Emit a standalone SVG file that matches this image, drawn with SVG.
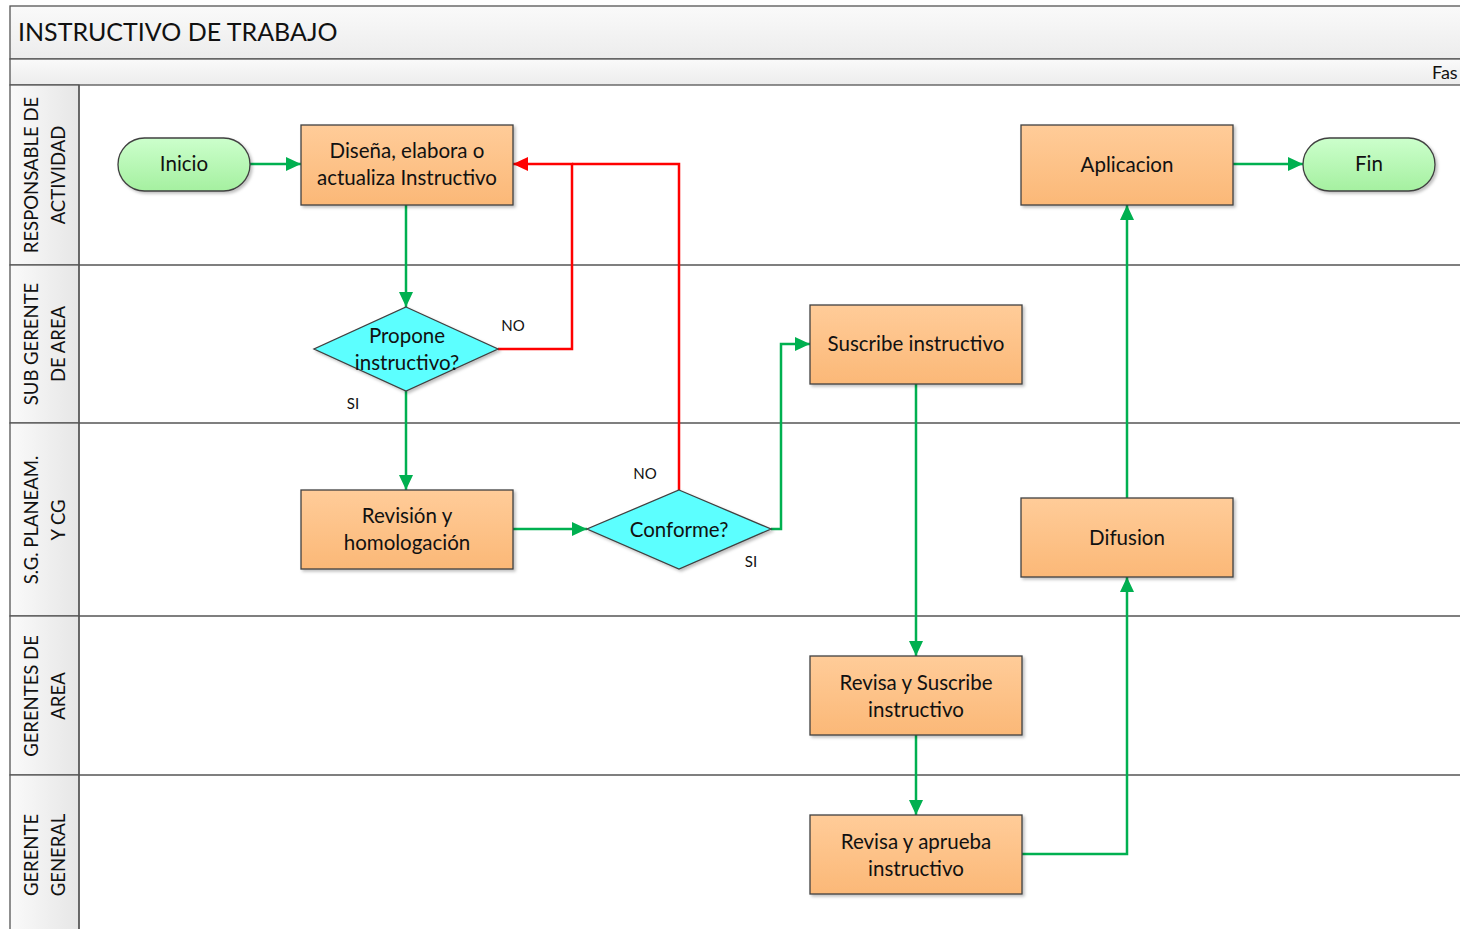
<svg xmlns="http://www.w3.org/2000/svg" width="1460" height="929" viewBox="0 0 1460 929">
<style>
.t{font-family:Lato,"Liberation Sans",sans-serif;fill:#111;}
.nt{font-size:20.5px;text-anchor:middle;}
.lbl{font-size:15px;text-anchor:middle;font-family:Lato,"Liberation Sans",sans-serif;fill:#111;}
.ln{font-size:18.5px;text-anchor:middle;}
.box{fill:url(#og);stroke:#404040;stroke-width:1.3;filter:url(#sh);}
.dia{fill:#5cffff;stroke:#404040;stroke-width:1.3;filter:url(#sh);}
.term{fill:url(#gg);stroke:#404040;stroke-width:1.3;filter:url(#sh);}
.g{fill:none;stroke:#00b050;stroke-width:2.5;}
.r{fill:none;stroke:#ff0000;stroke-width:2.5;}
.frame{stroke:#555;stroke-width:1.3;}
</style>
<defs>
<linearGradient id="og" x1="0" y1="0" x2="0" y2="1"><stop offset="0" stop-color="#ffcc99"/><stop offset="1" stop-color="#fbb877"/></linearGradient>
<linearGradient id="gg" x1="0" y1="0" x2="0" y2="1"><stop offset="0" stop-color="#ccffcc"/><stop offset="1" stop-color="#a5f0a0"/></linearGradient>
<linearGradient id="hg" x1="0" y1="0" x2="0" y2="1"><stop offset="0" stop-color="#fafafa"/><stop offset="1" stop-color="#ececec"/></linearGradient>
<linearGradient id="lg" x1="0" y1="0" x2="1" y2="0"><stop offset="0" stop-color="#fafafa"/><stop offset="1" stop-color="#e6e6e6"/></linearGradient>
<filter id="sh" x="-10%" y="-10%" width="130%" height="130%"><feDropShadow dx="2" dy="2" stdDeviation="1.5" flood-color="#000" flood-opacity="0.25"/></filter>
<marker id="ag" markerUnits="userSpaceOnUse" markerWidth="16" markerHeight="14" refX="15" refY="7" orient="auto"><path d="M0,0 L15,7 L0,14 Z" fill="#00b050"/></marker>
<marker id="ar" markerUnits="userSpaceOnUse" markerWidth="16" markerHeight="14" refX="15" refY="7" orient="auto"><path d="M0,0 L15,7 L0,14 Z" fill="#ff0000"/></marker>
</defs>
<rect width="1460" height="929" fill="#fff"/>
<g id="pool">
<rect x="10" y="6" width="1460" height="53" fill="url(#hg)" class="frame"/>
<rect x="10" y="59" width="1460" height="26" fill="url(#hg)" class="frame"/>
<text x="18" y="41" class="t" style="font-size:25px">INSTRUCTIVO DE TRABAJO</text>
<text x="1432" y="79" class="t" style="font-size:18px">Fas</text>
</g>
<g id="lanes">
<rect x="10" y="85" width="69" height="180" fill="url(#lg)" class="frame"/>
<rect x="10" y="265" width="69" height="158" fill="url(#lg)" class="frame"/>
<rect x="10" y="423" width="69" height="193" fill="url(#lg)" class="frame"/>
<rect x="10" y="616" width="69" height="159" fill="url(#lg)" class="frame"/>
<rect x="10" y="775" width="69" height="160" fill="url(#lg)" class="frame"/>
<g fill="none" class="frame" stroke="#555">
<line x1="79" y1="85" x2="79" y2="929"/>
<line x1="79" y1="265" x2="1460" y2="265"/>
<line x1="79" y1="423" x2="1460" y2="423"/>
<line x1="79" y1="616" x2="1460" y2="616"/>
<line x1="79" y1="775" x2="1460" y2="775"/>
</g>
<g class="t ln">
<text transform="translate(38,175) rotate(-90)">RESPONSABLE DE</text>
<text transform="translate(65,175) rotate(-90)">ACTIVIDAD</text>
<text transform="translate(38,344) rotate(-90)">SUB GERENTE</text>
<text transform="translate(65,344) rotate(-90)">DE AREA</text>
<text transform="translate(38,520) rotate(-90)">S.G. PLANEAM.</text>
<text transform="translate(65,520) rotate(-90)">Y CG</text>
<text transform="translate(38,696) rotate(-90)">GERENTES DE</text>
<text transform="translate(65,696) rotate(-90)">AREA</text>
<text transform="translate(38,855) rotate(-90)">GERENTE</text>
<text transform="translate(65,855) rotate(-90)">GENERAL</text>
</g>
</g>
<g id="connectors">
<path class="g" d="M250,164 H301" marker-end="url(#ag)"/>
<path class="g" d="M406,205 V307" marker-end="url(#ag)"/>
<path class="r" d="M498,349 H572 V164 H513" marker-end="url(#ar)"/>
<path class="r" d="M679,490 V164 H572"/>
<path class="g" d="M406,391 V490" marker-end="url(#ag)"/>
<path class="g" d="M513,529 H587" marker-end="url(#ag)"/>
<path class="g" d="M771,529 H781 V344 H810" marker-end="url(#ag)"/>
<path class="g" d="M916,384 V656" marker-end="url(#ag)"/>
<path class="g" d="M916,735 V815" marker-end="url(#ag)"/>
<path class="g" d="M1022,854 H1127 V577" marker-end="url(#ag)"/>
<path class="g" d="M1127,498 V205" marker-end="url(#ag)"/>
<path class="g" d="M1233,164 H1303" marker-end="url(#ag)"/>
<text x="513" y="331" class="lbl">NO</text>
<text x="353" y="409" class="lbl">SI</text>
<text x="645" y="479" class="lbl">NO</text>
<text x="751" y="567" class="lbl">SI</text>
</g>
<g id="inicio"><rect x="118" y="138" width="132" height="53" rx="26.5" class="term"/><text x="184" y="171" class="t nt">Inicio</text></g>
<g id="disena"><rect x="301" y="125" width="212" height="80" class="box"/><text x="407" y="158" class="t nt">Diseña, elabora o</text><text x="407" y="185" class="t nt">actualiza Instructivo</text></g>
<g id="propone"><polygon points="406,307 498,349 406,391 314,349" class="dia"/><text x="407" y="343" class="t nt">Propone</text><text x="407" y="370" class="t nt">instructivo?</text></g>
<g id="revision"><rect x="301" y="490" width="212" height="79" class="box"/><text x="407" y="523" class="t nt">Revisión y</text><text x="407" y="550" class="t nt">homologación</text></g>
<g id="conforme"><polygon points="679,490 771,529 679,569 587,529" class="dia"/><text x="679" y="537" class="t nt">Conforme?</text></g>
<g id="suscribe"><rect x="810" y="305" width="212" height="79" class="box"/><text x="916" y="351" class="t nt">Suscribe instructivo</text></g>
<g id="revisa-suscribe"><rect x="810" y="656" width="212" height="79" class="box"/><text x="916" y="690" class="t nt">Revisa y Suscribe</text><text x="916" y="717" class="t nt">instructivo</text></g>
<g id="revisa-aprueba"><rect x="810" y="815" width="212" height="79" class="box"/><text x="916" y="849" class="t nt">Revisa y aprueba</text><text x="916" y="876" class="t nt">instructivo</text></g>
<g id="difusion"><rect x="1021" y="498" width="212" height="79" class="box"/><text x="1127" y="545" class="t nt">Difusion</text></g>
<g id="aplicacion"><rect x="1021" y="125" width="212" height="80" class="box"/><text x="1127" y="172" class="t nt">Aplicacion</text></g>
<g id="fin"><rect x="1303" y="138" width="132" height="53" rx="26.5" class="term"/><text x="1369" y="171" class="t nt">Fin</text></g>
</svg>
